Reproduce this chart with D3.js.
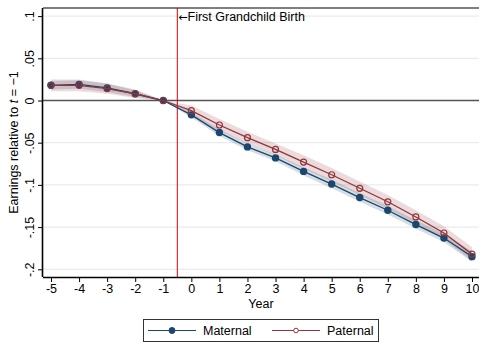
<!DOCTYPE html>
<html>
<head>
<meta charset="utf-8">
<script src="https://cdn.jsdelivr.net/npm/d3@7"></script>
<style>
  html, body { margin: 0; padding: 0; background: #fff; }
  svg { display: block; font-family: "Liberation Sans", Arial, sans-serif; }
</style>
</head>
<body>
<svg id="chart" width="479" height="344"></svg>
<script>
// Event time (years relative to first grandchild birth)
const years = [-5, -4, -3, -2, -1, 0, 1, 2, 3, 4, 5, 6, 7, 8, 9, 10];

// Point estimates
const maternal = [0.018, 0.019, 0.015, 0.008, 0, -0.017, -0.038, -0.055, -0.068, -0.084, -0.099, -0.115, -0.130, -0.147, -0.163, -0.185];
const paternal = [0.018, 0.018, 0.014, 0.008, 0, -0.012, -0.029, -0.044, -0.058, -0.073, -0.088, -0.104, -0.120, -0.138, -0.157, -0.182];

// 95% confidence bounds
const maternalLo = [0.013, 0.014, 0.010, 0.004, 0, -0.020, -0.042, -0.059, -0.072, -0.089, -0.104, -0.120, -0.135, -0.152, -0.168, -0.191];
const maternalHi = [0.023, 0.024, 0.020, 0.012, 0, -0.014, -0.034, -0.051, -0.064, -0.079, -0.094, -0.110, -0.125, -0.142, -0.158, -0.179];
const paternalLo = [0.011, 0.011, 0.008, 0.003, 0, -0.018, -0.036, -0.051, -0.065, -0.081, -0.096, -0.112, -0.128, -0.146, -0.165, -0.190];
const paternalHi = [0.025, 0.025, 0.020, 0.013, 0, -0.006, -0.022, -0.037, -0.051, -0.065, -0.080, -0.096, -0.112, -0.130, -0.149, -0.174];

const yTicks = [0.1, 0.05, 0, -0.05, -0.1, -0.15, -0.2];
const yTickLabels = [".1", ".05", "0", "-.05", "-.1", "-.15", "-.2"];
const xTicks = years;
const eventLine = -0.5;

const seriesNames = ["Maternal", "Paternal"];
const colors = { Maternal: "#1a476f", Paternal: "#90353b" };

const FS = 12.5;
const svg = d3.select("#chart");
const frame = { left: 43, right: 479, top: 8, bottom: 277 };

const x = d3.scaleLinear().domain([-5, 10]).range([51, 472]);
const y = d3.scaleLinear().domain([0.1, -0.2]).range([16.1, 269.3]);

// horizontal grid
svg.append("g").selectAll("line").data(yTicks.filter(d => d !== 0)).join("line")
  .attr("x1", frame.left).attr("x2", frame.right)
  .attr("y1", d => y(d)).attr("y2", d => y(d))
  .attr("stroke", "#e6e6e6").attr("stroke-width", 1);

// top border of plot region
svg.append("line")
  .attr("x1", frame.left).attr("x2", frame.right)
  .attr("y1", frame.top).attr("y2", frame.top)
  .attr("stroke", "#555").attr("stroke-width", 1.4);

// confidence bands
const area = (lo, hi) => d3.area()
  .x((d, i) => x(years[i]))
  .y0((d, i) => y(lo[i]))
  .y1((d, i) => y(hi[i]));

svg.append("path").attr("d", area(maternalLo, maternalHi)(years))
  .attr("fill", colors.Maternal).attr("fill-opacity", 0.18);
svg.append("path").attr("d", area(paternalLo, paternalHi)(years))
  .attr("fill", colors.Paternal).attr("fill-opacity", 0.18);

// zero reference line
svg.append("line")
  .attr("x1", frame.left).attr("x2", frame.right)
  .attr("y1", y(0)).attr("y2", y(0))
  .attr("stroke", "#555").attr("stroke-width", 1.3);

// event marker
svg.append("line")
  .attr("x1", x(eventLine)).attr("x2", x(eventLine))
  .attr("y1", frame.top).attr("y2", frame.bottom)
  .attr("stroke", "#d8000a").attr("stroke-width", 1);

const note = svg.append("text")
  .attr("x", x(eventLine) + 1).attr("y", 21)
  .attr("font-size", FS).attr("fill", "#000");
note.append("tspan").attr("font-family", "DejaVu Sans").attr("font-size", 11).text("\u2190");
note.append("tspan").text("First Grandchild Birth");

// series lines and markers
const line = vals => d3.line().x((d, i) => x(years[i])).y((d, i) => y(vals[i]));

svg.append("path").attr("d", line(maternal)(years))
  .attr("fill", "none").attr("stroke", colors.Maternal).attr("stroke-width", 1.3);
svg.append("g").selectAll("circle").data(maternal).join("circle")
  .attr("cx", (d, i) => x(years[i])).attr("cy", d => y(d)).attr("r", 3.7)
  .attr("fill", colors.Maternal);

svg.append("path").attr("d", line(paternal)(years))
  .attr("fill", "none").attr("stroke", colors.Paternal).attr("stroke-width", 1.3);
svg.append("g").selectAll("circle").data(paternal).join("circle")
  .attr("cx", (d, i) => x(years[i])).attr("cy", d => y(d)).attr("r", 3)
  .attr("fill", "none").attr("stroke", colors.Paternal).attr("stroke-width", 1.2);

// x axis
const xAxis = svg.append("g").attr("transform", `translate(0,${frame.bottom})`)
  .call(d3.axisBottom(x).tickValues(xTicks).tickFormat(d3.format("d")).tickSize(5).tickSizeOuter(0));
xAxis.select(".domain").attr("d", `M${frame.left},0.5H${frame.right}`).attr("stroke", "#000").attr("stroke-width", 1.6);
xAxis.selectAll(".tick line").attr("stroke", "#000");
xAxis.selectAll(".tick text").attr("font-size", FS).attr("font-family", "Liberation Sans, Arial, sans-serif")
  .attr("dy", "0.8em").attr("y", 6)
  .text(d => String(d).replace("\u2212", "-"));

// y axis
const yAxis = svg.append("g").attr("transform", `translate(${frame.left},0)`)
  .call(d3.axisLeft(y).tickValues(yTicks).tickFormat((d, i) => yTickLabels[i]).tickSize(5).tickSizeOuter(0));
yAxis.select(".domain").attr("d", `M-0.5,${frame.top}V${frame.bottom}`).attr("stroke", "#000").attr("stroke-width", 1.6);
yAxis.selectAll(".tick line").attr("stroke", "#000");
yAxis.selectAll(".tick text")
  .attr("font-size", FS).attr("font-family", "Liberation Sans, Arial, sans-serif")
  .attr("x", null).attr("dy", null)
  .attr("text-anchor", "middle")
  .attr("transform", "translate(-9,0) rotate(-90)");

// axis titles
svg.append("text").attr("x", 261).attr("y", 308).attr("text-anchor", "middle")
  .attr("font-size", FS).text("Year");

const yt = svg.append("text")
  .attr("transform", `translate(18,${(frame.top + frame.bottom) / 2}) rotate(-90)`)
  .attr("text-anchor", "middle").attr("font-size", FS);
yt.append("tspan").text("Earnings relative to ");
yt.append("tspan").attr("font-style", "italic").text("t");
yt.append("tspan").text(" = \u22121");

// legend
const lg = svg.append("g");
lg.append("rect").attr("x", 143.5).attr("y", 319.5).attr("width", 235).attr("height", 22)
  .attr("fill", "#fff").attr("stroke", "#333").attr("stroke-width", 1);
const legendItems = [
  { name: seriesNames[0], x0: 148, filled: true },
  { name: seriesNames[1], x0: 272, filled: false }
];
legendItems.forEach(it => {
  const c = colors[it.name];
  lg.append("line").attr("x1", it.x0).attr("x2", it.x0 + 48).attr("y1", 330.5).attr("y2", 330.5)
    .attr("stroke", c).attr("stroke-width", 1.2);
  lg.append("circle").attr("cx", it.x0 + 24).attr("cy", 330.5).attr("r", it.filled ? 3 : 2.3)
    .attr("fill", it.filled ? c : "#fff").attr("stroke", c).attr("stroke-width", 1);
  lg.append("text").attr("x", it.x0 + 55).attr("y", 335).attr("font-size", FS).text(it.name);
});
</script>
</body>
</html>
